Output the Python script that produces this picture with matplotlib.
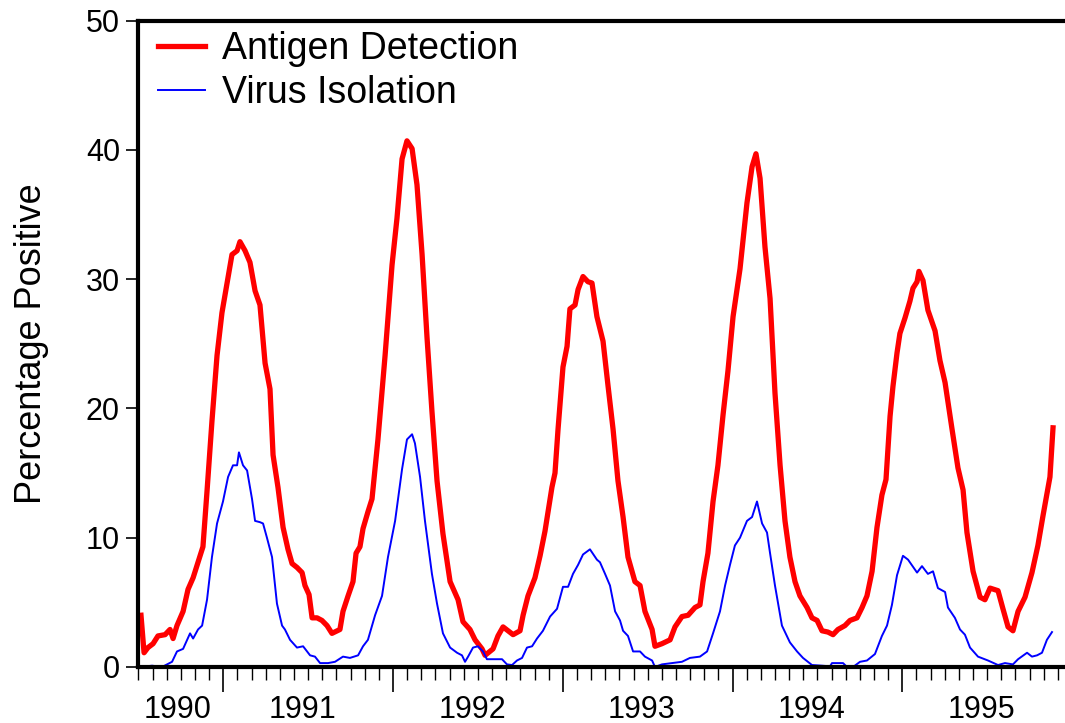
import numpy as np
import matplotlib.pyplot as plt
from matplotlib.ticker import FixedLocator, NullFormatter
import matplotlib.transforms as mtransforms

plt.rcParams['font.family'] = ['Liberation Sans', 'DejaVu Sans']

# Antigen detection, % positive (decimal year, value)
antigen_t = [1990.515, 1990.533, 1990.556, 1990.586, 1990.615, 1990.657, 1990.686, 1990.704,
             1990.727, 1990.763, 1990.792, 1990.822, 1990.851, 1990.880, 1990.904, 1990.933,
             1990.963, 1990.992, 1991.022, 1991.051, 1991.081, 1991.098, 1991.128, 1991.157,
             1991.187, 1991.216, 1991.246, 1991.275, 1991.293, 1991.322, 1991.352, 1991.381,
             1991.405, 1991.434, 1991.464, 1991.481, 1991.505, 1991.523, 1991.552, 1991.581,
             1991.611, 1991.640, 1991.687, 1991.705, 1991.735, 1991.764, 1991.782, 1991.805,
             1991.823, 1991.852, 1991.876, 1991.911, 1991.953, 1991.994, 1992.023, 1992.053,
             1992.082, 1992.112, 1992.141, 1992.171, 1992.200, 1992.229, 1992.259, 1992.294,
             1992.336, 1992.383, 1992.412, 1992.453, 1992.483, 1992.524, 1992.542, 1992.589,
             1992.618, 1992.648, 1992.677, 1992.707, 1992.748, 1992.766, 1992.795, 1992.836,
             1992.866, 1992.895, 1992.936, 1992.954, 1992.972, 1993.001, 1993.025, 1993.042,
             1993.072, 1993.090, 1993.119, 1993.148, 1993.172, 1993.201, 1993.237, 1993.266,
             1993.296, 1993.325, 1993.355, 1993.384, 1993.425, 1993.455, 1993.484, 1993.526,
             1993.543, 1993.584, 1993.632, 1993.661, 1993.702, 1993.738, 1993.779, 1993.808,
             1993.826, 1993.855, 1993.885, 1993.914, 1993.944, 1993.973, 1994.003, 1994.044,
             1994.085, 1994.115, 1994.138, 1994.162, 1994.191, 1994.221, 1994.250, 1994.280,
             1994.309, 1994.338, 1994.368, 1994.397, 1994.439, 1994.468, 1994.498, 1994.527,
             1994.562, 1994.592, 1994.621, 1994.662, 1994.692, 1994.733, 1994.763, 1994.792,
             1994.822, 1994.851, 1994.880, 1994.904, 1994.928, 1994.945, 1994.969, 1994.986,
             1995.016, 1995.045, 1995.063, 1995.087, 1995.098, 1995.122, 1995.151, 1995.193,
             1995.222, 1995.252, 1995.293, 1995.328, 1995.358, 1995.381, 1995.417, 1995.458,
             1995.487, 1995.517, 1995.564, 1995.593, 1995.623, 1995.652, 1995.682, 1995.723,
             1995.764, 1995.799, 1995.829, 1995.852, 1995.870, 1995.888]
antigen_pct = [4.0, 1.1, 1.5, 1.8, 2.4, 2.5, 2.9, 2.2,
               3.2, 4.3, 6.0, 6.9, 8.1, 9.3, 13.6, 19.0,
               24.1, 27.4, 29.7, 31.9, 32.2, 32.9, 32.2, 31.3,
               29.1, 28.0, 23.5, 21.5, 16.4, 13.9, 10.8, 9.1,
               8.0, 7.7, 7.3, 6.3, 5.6, 3.8, 3.8, 3.6,
               3.2, 2.6, 2.9, 4.3, 5.5, 6.6, 8.8, 9.3,
               10.7, 12.0, 13.0, 17.6, 24.1, 31.1, 34.7, 39.3,
               40.7, 40.1, 37.3, 31.9, 25.5, 19.8, 14.4, 10.3,
               6.6, 5.2, 3.5, 2.9, 2.1, 1.4, 0.9, 1.4,
               2.4, 3.1, 2.8, 2.5, 2.8, 4.0, 5.5, 6.9,
               8.6, 10.5, 13.9, 15.0, 18.4, 23.2, 24.8, 27.7,
               28.0, 29.2, 30.2, 29.8, 29.7, 27.1, 25.2, 21.8,
               18.4, 14.4, 11.6, 8.5, 6.6, 6.3, 4.3, 2.9,
               1.6, 1.8, 2.1, 3.1, 3.9, 4.0, 4.6, 4.8,
               6.6, 8.8, 12.8, 15.6, 19.5, 22.9, 27.1, 30.8,
               35.9, 38.7, 39.7, 37.8, 32.5, 28.5, 21.2, 15.6,
               11.3, 8.5, 6.6, 5.5, 4.6, 3.8, 3.6, 2.8,
               2.7, 2.5, 2.9, 3.2, 3.6, 3.8, 4.6, 5.5,
               7.4, 10.8, 13.3, 14.5, 19.4, 21.7, 24.3, 25.8,
               27.0, 28.3, 29.3, 29.8, 30.6, 29.9, 27.6, 26.0,
               23.7, 22.0, 18.4, 15.4, 13.7, 10.4, 7.4, 5.4,
               5.2, 6.1, 5.9, 4.5, 3.1, 2.8, 4.3, 5.4,
               7.3, 9.4, 11.7, 13.4, 14.7, 18.5]

# Virus isolation, % positive
isolation_t = [1990.515, 1990.580, 1990.639, 1990.668, 1990.698, 1990.727, 1990.763, 1990.804,
               1990.822, 1990.851, 1990.875, 1990.904, 1990.933, 1990.963, 1990.998, 1991.028,
               1991.057, 1991.081, 1991.092, 1991.116, 1991.140, 1991.169, 1991.187, 1991.216,
               1991.234, 1991.257, 1991.287, 1991.316, 1991.346, 1991.363, 1991.393, 1991.434,
               1991.470, 1991.511, 1991.540, 1991.570, 1991.617, 1991.658, 1991.705, 1991.746,
               1991.794, 1991.823, 1991.852, 1991.894, 1991.935, 1991.970, 1992.012, 1992.053,
               1992.082, 1992.112, 1992.129, 1992.159, 1992.188, 1992.229, 1992.259, 1992.294,
               1992.336, 1992.377, 1992.406, 1992.424, 1992.442, 1992.471, 1992.500, 1992.530,
               1992.553, 1992.589, 1992.642, 1992.671, 1992.701, 1992.730, 1992.760, 1992.789,
               1992.819, 1992.848, 1992.883, 1992.925, 1992.966, 1993.001, 1993.031, 1993.060,
               1993.090, 1993.119, 1993.160, 1993.201, 1993.219, 1993.249, 1993.278, 1993.308,
               1993.337, 1993.355, 1993.384, 1993.414, 1993.455, 1993.484, 1993.526, 1993.543,
               1993.584, 1993.643, 1993.702, 1993.749, 1993.808, 1993.850, 1993.885, 1993.926,
               1993.956, 1993.985, 1994.014, 1994.044, 1994.085, 1994.115, 1994.144, 1994.174,
               1994.203, 1994.221, 1994.250, 1994.291, 1994.338, 1994.380, 1994.415, 1994.468,
               1994.527, 1994.574, 1994.586, 1994.651, 1994.674, 1994.710, 1994.751, 1994.792,
               1994.839, 1994.880, 1994.910, 1994.939, 1994.969, 1995.004, 1995.034, 1995.087,
               1995.116, 1995.151, 1995.181, 1995.210, 1995.252, 1995.269, 1995.310, 1995.340,
               1995.369, 1995.399, 1995.446, 1995.505, 1995.564, 1995.605, 1995.652, 1995.682,
               1995.735, 1995.764, 1995.794, 1995.823, 1995.852, 1995.882]
isolation_pct = [0.0, 0.1, 0.0, 0.2, 0.4, 1.2, 1.4, 2.6,
                 2.2, 2.9, 3.2, 5.2, 8.5, 11.1, 12.8, 14.7,
                 15.6, 15.6, 16.6, 15.6, 15.2, 13.0, 11.3, 11.2,
                 11.1, 10.0, 8.5, 4.9, 3.2, 2.9, 2.1, 1.5,
                 1.6, 0.9, 0.8, 0.3, 0.3, 0.4, 0.8, 0.7,
                 0.9, 1.6, 2.1, 4.0, 5.5, 8.5, 11.3, 15.3,
                 17.6, 18.0, 17.3, 14.7, 11.3, 7.2, 4.9, 2.6,
                 1.5, 1.1, 0.9, 0.4, 0.8, 1.5, 1.6, 1.2,
                 0.6, 0.6, 0.6, 0.2, 0.15, 0.5, 0.7, 1.5,
                 1.6, 2.2, 2.8, 3.9, 4.5, 6.2, 6.2, 7.2,
                 7.9, 8.7, 9.1, 8.3, 8.1, 7.2, 6.3, 4.3,
                 3.6, 2.8, 2.4, 1.2, 1.2, 0.8, 0.5, 0.0,
                 0.2, 0.3, 0.4, 0.7, 0.8, 1.2, 2.6, 4.3,
                 6.3, 7.9, 9.4, 10.0, 11.3, 11.6, 12.8, 11.1,
                 10.4, 8.8, 6.3, 3.2, 1.9, 1.2, 0.7, 0.15,
                 0.1, 0.05, 0.3, 0.3, 0.0, 0.0, 0.4, 0.5,
                 1.0, 2.4, 3.2, 4.8, 7.1, 8.6, 8.3, 7.3,
                 7.8, 7.2, 7.4, 6.1, 5.8, 4.6, 3.8, 2.9,
                 2.5, 1.5, 0.8, 0.5, 0.15, 0.3, 0.2, 0.6,
                 1.1, 0.8, 0.9, 1.1, 2.1, 2.7]

years = [1991, 1992, 1993, 1994, 1995]
year_labels = ['1990', '1991', '1992', '1993', '1994', '1995']
year_label_pos = [1990.73, 1991.465, 1992.465, 1993.465, 1994.465, 1995.465]

fig = plt.figure(figsize=(10.65, 7.23), dpi=100)
ax = fig.add_axes([0.1296, 0.0775, 0.877, 0.894])

ax.plot(antigen_t, antigen_pct, color='#ff0000', lw=3.8, label='Antigen Detection')
ax.plot(isolation_t, isolation_pct, color='#0000ff', lw=1.4, label='Virus Isolation')

ax.set_xlim(1990.4975, 1996.0)
ax.set_ylim(0, 50)

for side in ['left', 'bottom', 'top']:
    ax.spines[side].set_linewidth(3)
ax.spines['right'].set_visible(False)

ax.set_yticks([0, 10, 20, 30, 40, 50])
ax.tick_params(axis='y', direction='out', length=9, width=1.2, labelsize=22, pad=4)

months = [1990.5 + k / 12 for k in range(0, 67)]
ax.xaxis.set_major_locator(FixedLocator(years))
ax.xaxis.set_minor_locator(FixedLocator(months))
ax.xaxis.set_major_formatter(NullFormatter())
ax.tick_params(axis='x', which='major', direction='out', length=18, width=1.2)
ax.tick_params(axis='x', which='minor', direction='out', length=9, width=1.0)

trans = mtransforms.blended_transform_factory(ax.transData, ax.transAxes)
for pos, lab in zip(year_label_pos, year_labels):
    ax.text(pos, -0.0665, lab, transform=trans, ha='center', va='center', fontsize=22)

ax.text(-0.1137, 0.5, 'Percentage Positive', transform=ax.transAxes, rotation=90,
        ha='center', va='center', fontsize=26)

ax.legend(loc='upper left', bbox_to_anchor=(0.0215, 0.984), frameon=False, fontsize=27,
          handlelength=1.25, handletextpad=0.45, labelspacing=0.21, borderpad=0,
          borderaxespad=0)

fig.savefig('out.png', dpi=100)
